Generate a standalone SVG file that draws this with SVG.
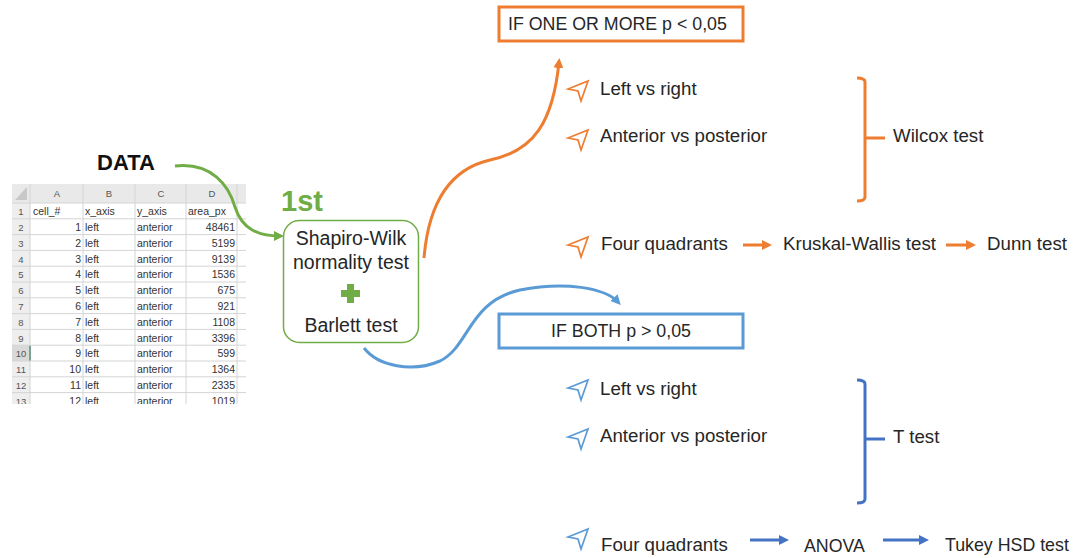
<svg xmlns="http://www.w3.org/2000/svg" width="1076" height="558" viewBox="0 0 1076 558">
<style>
.t{font-family:"Liberation Sans",Arial,sans-serif;font-size:18.7px;fill:#262626}
.c{font-size:17.8px}
.b{font-size:19.5px}
.s{font-family:"Liberation Sans",Arial,sans-serif;font-size:10.5px;fill:#333}
.h{font-family:"Liberation Sans",Arial,sans-serif;font-size:9.5px;fill:#555;text-anchor:middle}
.r{text-anchor:end}
.grid{stroke:#d4d4d4;stroke-width:1}
.ico{fill:none;stroke-width:1.7;stroke-linejoin:miter}
.or{stroke:#ed7d31}
.bl{stroke:#5b9bd5}
.db{stroke:#4472c4}
.brk{fill:none;stroke-width:3}
</style>
<defs>
<marker id="ag" markerWidth="10" markerHeight="10" refX="6" refY="5" orient="auto" markerUnits="userSpaceOnUse"><path d="M0,0 L10,5 L0,10 Z" fill="#70ad47"/></marker>
<marker id="ao" markerWidth="10" markerHeight="10" refX="6" refY="5" orient="auto" markerUnits="userSpaceOnUse"><path d="M0,0 L10,5 L0,10 Z" fill="#ed7d31"/></marker>
<marker id="ab" markerWidth="10" markerHeight="10" refX="6" refY="5" orient="auto" markerUnits="userSpaceOnUse"><path d="M0,0 L10,5 L0,10 Z" fill="#5b9bd5"/></marker>
<marker id="ad" markerWidth="10" markerHeight="10" refX="6" refY="5" orient="auto" markerUnits="userSpaceOnUse"><path d="M0,0 L10,5 L0,10 Z" fill="#4472c4"/></marker>
<clipPath id="sheetclip"><rect x="12" y="184" width="234" height="220"/></clipPath>
<path id="nav" d="M-2,8 L18,0 L11,20 L8,10 Z"/>
</defs>
<rect width="1076" height="558" fill="#fff"/>

<g id="spreadsheet" clip-path="url(#sheetclip)">
<rect x="12" y="184" width="234" height="19" fill="#e9e9e9"/>
<rect x="12" y="203" width="18" height="205" fill="#eeeeee"/>
<rect x="12" y="345.2" width="18" height="15.8" fill="#d9d9d9"/>
<line x1="30" y1="345.2" x2="30" y2="361" stroke="#217346" stroke-width="2"/>
<path d="M27,187 L27,200 L15,200 Z" fill="#c8c8c8"/>
<g class="grid">
<line x1="12" y1="203" x2="246" y2="203"/>
<line x1="12" y1="218.8" x2="246" y2="218.8"/><line x1="12" y1="234.6" x2="246" y2="234.6"/><line x1="12" y1="250.4" x2="246" y2="250.4"/><line x1="12" y1="266.2" x2="246" y2="266.2"/><line x1="12" y1="282" x2="246" y2="282"/><line x1="12" y1="297.8" x2="246" y2="297.8"/><line x1="12" y1="313.6" x2="246" y2="313.6"/><line x1="12" y1="329.4" x2="246" y2="329.4"/><line x1="12" y1="345.2" x2="246" y2="345.2"/><line x1="12" y1="361" x2="246" y2="361"/><line x1="12" y1="376.8" x2="246" y2="376.8"/><line x1="12" y1="392.6" x2="246" y2="392.6"/>
<line x1="30" y1="184" x2="30" y2="408"/><line x1="83" y1="184" x2="83" y2="408"/><line x1="135" y1="184" x2="135" y2="408"/><line x1="186" y1="184" x2="186" y2="408"/><line x1="237" y1="184" x2="237" y2="408"/>
</g>
<text class="h" x="57" y="197">A</text><text class="h" x="109" y="197">B</text><text class="h" x="161" y="197">C</text><text class="h" x="212" y="197">D</text>
<g class="h">
<text x="21" y="215">1</text><text x="21" y="231">2</text><text x="21" y="246.5">3</text><text x="21" y="262.5">4</text><text x="21" y="278">5</text><text x="21" y="294">6</text><text x="21" y="310">7</text><text x="21" y="325.5">8</text><text x="21" y="341.5">9</text><text x="21" y="357">10</text><text x="21" y="373">11</text><text x="21" y="389">12</text><text x="21" y="404.5">13</text>
</g>
<text class="s" x="33" y="215">cell_#</text><text class="s" x="85" y="215">x_axis</text><text class="s" x="137" y="215">y_axis</text><text class="s" x="188" y="215">area_px</text>
<g class="s">
<text class="r" x="81" y="231">1</text><text x="85" y="231">left</text><text x="137" y="231">anterior</text><text class="r" x="235" y="231">48461</text>
<text class="r" x="81" y="246.5">2</text><text x="85" y="246.5">left</text><text x="137" y="246.5">anterior</text><text class="r" x="235" y="246.5">5199</text>
<text class="r" x="81" y="262.5">3</text><text x="85" y="262.5">left</text><text x="137" y="262.5">anterior</text><text class="r" x="235" y="262.5">9139</text>
<text class="r" x="81" y="278">4</text><text x="85" y="278">left</text><text x="137" y="278">anterior</text><text class="r" x="235" y="278">1536</text>
<text class="r" x="81" y="294">5</text><text x="85" y="294">left</text><text x="137" y="294">anterior</text><text class="r" x="235" y="294">675</text>
<text class="r" x="81" y="310">6</text><text x="85" y="310">left</text><text x="137" y="310">anterior</text><text class="r" x="235" y="310">921</text>
<text class="r" x="81" y="325.5">7</text><text x="85" y="325.5">left</text><text x="137" y="325.5">anterior</text><text class="r" x="235" y="325.5">1108</text>
<text class="r" x="81" y="341.5">8</text><text x="85" y="341.5">left</text><text x="137" y="341.5">anterior</text><text class="r" x="235" y="341.5">3396</text>
<text class="r" x="81" y="357">9</text><text x="85" y="357">left</text><text x="137" y="357">anterior</text><text class="r" x="235" y="357">599</text>
<text class="r" x="81" y="373">10</text><text x="85" y="373">left</text><text x="137" y="373">anterior</text><text class="r" x="235" y="373">1364</text>
<text class="r" x="81" y="389">11</text><text x="85" y="389">left</text><text x="137" y="389">anterior</text><text class="r" x="235" y="389">2335</text>
<text class="r" x="81" y="404.5">12</text><text x="85" y="404.5">left</text><text x="137" y="404.5">anterior</text><text class="r" x="235" y="404.5">1019</text>
</g>
</g>

<g id="data">
<text x="97" y="170" style="font-family:'Liberation Sans',Arial,sans-serif;font-size:22px;font-weight:bold;fill:#111">DATA</text>
</g>

<g id="first">
<text x="281" y="211" style="font-family:'Liberation Sans',Arial,sans-serif;font-size:29px;font-weight:bold;fill:#70ad47">1st</text>
</g>

<g id="tests">
<rect x="283.5" y="220.5" width="135" height="122" rx="16" fill="#fff" stroke="#70ad47" stroke-width="1.5"/>
<text class="t b" x="351" y="245" text-anchor="middle">Shapiro-Wilk</text>
<text class="t b" x="351" y="269" text-anchor="middle">normality test</text>
<path d="M347,284 h7 v6 h6 v7 h-6 v6 h-7 v-6 h-6 v-7 h6 Z" fill="#70ad47"/>
<text class="t b" x="351" y="332" text-anchor="middle">Barlett test</text>
</g>

<g id="connectors" fill="none">
<path d="M175,166 C212,162 229,186 235,207 C242,229 258,236 280,236" stroke="#70ad47" stroke-width="3" marker-end="url(#ag)"/>
<path d="M424,258 C428,210 446,170 490,160 C534,151 553,122 559,62" stroke="#ed7d31" stroke-width="3" marker-end="url(#ao)"/>
<path d="M364,348 C378,366 412,373 440,361 C470,346 468,302 520,290 C565,281 605,288 618,302" stroke="#5b9bd5" stroke-width="3" marker-end="url(#ab)"/>
<line x1="743" y1="245" x2="768" y2="245" stroke="#ed7d31" stroke-width="3" marker-end="url(#ao)"/>
<line x1="946" y1="245" x2="972" y2="245" stroke="#ed7d31" stroke-width="3" marker-end="url(#ao)"/>
<line x1="750" y1="540" x2="785" y2="540" stroke="#4472c4" stroke-width="3" marker-end="url(#ad)"/>
<line x1="883" y1="540" x2="925" y2="540" stroke="#4472c4" stroke-width="3" marker-end="url(#ad)"/>
</g>

<g id="if-one">
<rect x="499" y="7" width="244" height="34" fill="#fff" stroke="#ed7d31" stroke-width="3"/>
<text class="t c" x="508" y="30">IF ONE OR MORE p &lt; 0,05</text>
</g>

<g id="orange-items">
<use href="#nav" x="570" y="81" class="ico or"/>
<text class="t" x="600" y="95">Left vs right</text>
<use href="#nav" x="570" y="130" class="ico or"/>
<text class="t" x="600" y="142">Anterior vs posterior</text>
<path d="M857,78 Q865,78 865,82 V197 Q865,201 857,201 M865,138 H885" class="brk or"/>
<text class="t" x="893" y="142">Wilcox test</text>
<use href="#nav" x="570" y="237" class="ico or"/>
<text class="t" x="601" y="250">Four quadrants</text>
<text class="t" x="783" y="250">Kruskal-Wallis test</text>
<text class="t" x="987" y="250">Dunn test</text>
</g>

<g id="if-both">
<rect x="499" y="314" width="244" height="34" fill="#fff" stroke="#5b9bd5" stroke-width="3"/>
<text class="t c" x="621" y="337" text-anchor="middle">IF BOTH p &gt; 0,05</text>
</g>

<g id="blue-items">
<use href="#nav" x="570" y="380" class="ico bl"/>
<text class="t" x="600" y="395">Left vs right</text>
<use href="#nav" x="570" y="429" class="ico bl"/>
<text class="t" x="600" y="442">Anterior vs posterior</text>
<path d="M857,380 Q865,380 865,384 V499 Q865,503 857,503 M865,439 H885" class="brk db"/>
<text class="t" x="893" y="443">T test</text>
<use href="#nav" x="570" y="529" class="ico bl"/>
<text class="t" x="601" y="551">Four quadrants</text>
<text class="t c" x="804" y="552">ANOVA</text>
<text class="t c" x="945" y="551">Tukey HSD test</text>
</g>
</svg>
